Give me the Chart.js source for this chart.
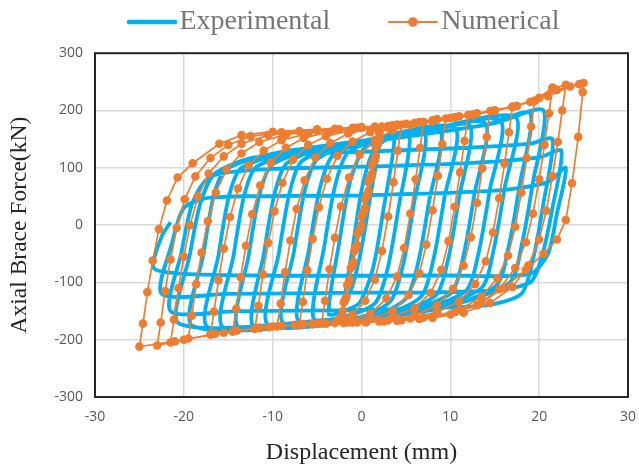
<!DOCTYPE html>
<html>
<head>
<meta charset="utf-8">
<script src="https://cdn.jsdelivr.net/npm/chart.js@4.4.1/dist/chart.umd.min.js"></script>
<style>
  html, body { margin: 0; padding: 0; background: #fff; }
  #chart { display: block; }
</style>
</head>
<body>
<canvas id="chart" width="639" height="468"></canvas>
<script>
// Experimental loops, [displacement mm, force kN]
// each cycle = unloading to the negative peak, then reloading to the next positive peak
const expStart = [[0, 0], [1, 80], [2, 140]];
const expCycle1 = [[1, 50], [0, -40], [-1, -105], [-2, -140], [-1, -40], [0, 60], [1.2, 125], [2.5, 147], [3.7, 152]];
const expCycle2 = [[2.5, 30], [1.3, -75], [-0.2, -135], [-2, -150], [-3.7, -155], [-2.5, -30], [-1.3, 75], [0.2, 132], [2.5, 150], [5.4, 158]];
const expCycle3 = [[4.2, 33], [3, -72], [1.6, -135], [-1.5, -158], [-5.4, -163], [-4.2, -38], [-3, 67], [-1.6, 125], [2, 150], [7.1, 162]];
const expCycle4 = [[5.9, 37], [4.7, -68], [3.3, -132], [0, -160], [-7.1, -167], [-5.9, -42], [-4.7, 63], [-3.3, 120], [1, 148], [8.8, 166]];
const expCycle5 = [[7.6, 41], [6.4, -64], [5, -128], [1, -160], [-8.8, -171], [-7.6, -46], [-6.4, 59], [-5, 115], [0, 146], [10.5, 170]];
const expCycle6 = [[9.3, 45], [8.1, -60], [6.7, -125], [2, -158], [-10.5, -174], [-9.3, -49], [-8.1, 56], [-6.7, 112], [-1, 143], [6, 158], [12.2, 174]];
const expCycle7 = [[11, 49], [9.8, -56], [8.4, -122], [3, -157], [-5, -168], [-12.2, -176], [-11, -51], [-9.8, 54], [-8.4, 108], [-3, 140], [5, 156], [13.9, 178]];
const expCycle8 = [[12.7, 53], [11.5, -52], [10.1, -118], [4, -155], [-5, -168], [-13.9, -178], [-12.7, -53], [-11.5, 52], [-10.1, 105], [-4, 138], [5, 157], [15.6, 183]];
const expCycle9 = [[14.4, 58], [13.2, -47], [11.8, -114], [6, -150], [-4, -167], [-15.6, -178], [-14.4, -53], [-13.2, 52], [-11.8, 102], [-5, 136], [5, 157], [17.3, 189]];
const expCycle10 = [[16.1, 64], [14.9, -41], [13.5, -110], [7, -148], [-3, -166], [-17.3, -178], [-16.1, -53], [-14.9, 52], [-13.5, 100], [-7, 132], [5, 156], [14, 175], [19, 195]];
const expCycle11 = [[17.8, 70], [16.6, -35], [15.2, -105], [9, -145], [-2, -165], [-19, -176], [-17.8, -51], [-16.6, 54], [-15.2, 98], [-9, 128], [3, 150], [15, 178], [20.5, 200]];
const expCycle12 = [[19.3, 75], [18.1, -30], [16.7, -100], [10, -140], [-2, -163], [-20.5, -172], [-19.3, -50], [-18.1, 40], [-16.5, 90], [-12, 118], [0, 128], [12, 135], [19, 142], [21.5, 150]];
const expCycle13 = [[20.5, 40], [19.3, -60], [18, -120], [14, -140], [0, -148], [-14, -150], [-21.5, -150], [-20.3, -50], [-19, 40], [-17, 85], [-10, 98], [0, 102], [12, 108], [20, 118], [22.5, 130]];
const expCycle14 = [[21.5, 30], [20.3, -55], [19, -100], [14, -115], [0, -118], [-15, -120], [-22.5, -120], [-21.3, -30], [-20, 30], [-17, 48], [0, 52], [15, 60], [21, 75], [23, 100]];
const expCycle15 = [[22, 20], [21, -50], [19, -85], [10, -88], [-10, -88], [-20, -85], [-23.4, -75], [-22.5, -20], [-21.5, 5]];

// Numerical loops (orange, with markers)
const numStart = [[0, 0], [0.4, 30], [0.8, 60], [1.2, 90], [1.6, 120], [2, 150], [2.2, 168]];
const numCycle1 = [[1.8, 140], [1.4, 110], [1, 80], [0.6, 50], [0.2, 20], [-0.2, -10], [-0.6, -40], [-1, -70], [-1.4, -100], [-1.8, -130], [-2.2, -158],
  [-1.8, -128], [-1.4, -98], [-1, -68], [-0.6, -38], [-0.2, -8], [0.2, 22], [0.6, 52], [1, 82], [1.4, 112], [1.8, 142], [2.3, 172]];
const numCycle2 = [[1.9, 145], [1.5, 115], [1.1, 85], [0.7, 55], [0.3, 25], [-0.1, -5], [-0.5, -35], [-0.9, -65], [-1.3, -95], [-1.7, -125], [-2.1, -150], [-2.4, -162],
  [-2, -135], [-1.6, -105], [-1.2, -75], [-0.8, -45], [-0.4, -15], [0, 15], [0.4, 45], [0.8, 75], [1.2, 105], [1.6, 135], [2, 160], [3, 170], [4.5, 175]];
const numCycle3 = [[4.1, 130], [3.6, 75], [3, 15], [2.3, -45], [1.5, -95], [0.4, -132], [-1, -156], [-2.8, -167], [-4.5, -172],
  [-4.1, -132], [-3.6, -77], [-3, -22], [-2.3, 33], [-1.4, 83], [-0.2, 123], [1.5, 148], [3.5, 165], [5.5, 175], [7, 180]];
const numCycle4 = [[6.6, 135], [6.1, 80], [5.5, 20], [4.8, -40], [4, -90], [2.8, -128], [1, -155], [-1.5, -167], [-4, -171], [-7, -174],
  [-6.6, -134], [-6.1, -79], [-5.5, -24], [-4.8, 31], [-3.9, 81], [-2.7, 121], [-1, 146], [1, 162], [3.5, 172], [6.5, 180], [9.5, 186]];
const numCycle5 = [[9.1, 141], [8.6, 86], [8, 26], [7.3, -34], [6.5, -84], [5.3, -122], [3.5, -150], [1, -164], [-2, -170], [-5.5, -172], [-9.5, -177],
  [-9.1, -137], [-8.6, -82], [-8, -27], [-7.3, 28], [-6.4, 78], [-5.2, 118], [-3.5, 143], [-1.5, 160], [1.5, 170], [5, 177], [8.5, 185], [12, 192]];
const numCycle6 = [[11.6, 147], [11.1, 92], [10.5, 32], [9.8, -28], [9, -78], [7.8, -118], [6, -145], [3.5, -160], [0.5, -168], [-3, -171], [-7.5, -174], [-12, -181],
  [-11.6, -141], [-11.1, -86], [-10.5, -31], [-9.8, 24], [-8.9, 74], [-7.7, 114], [-6, 140], [-4, 155], [-1, 166], [3, 173], [7, 180], [11, 190], [14.5, 199]];
const numCycle7 = [[14.1, 154], [13.6, 99], [13, 39], [12.3, -21], [11.5, -71], [10.3, -111], [8.5, -140], [6, -157], [3, -166], [-1, -170], [-5, -172], [-10, -177], [-14.5, -186],
  [-14.1, -146], [-13.6, -91], [-13, -36], [-12.3, 19], [-11.4, 69], [-10.2, 109], [-8.5, 135], [-6.5, 152], [-3.5, 163], [0, 170], [4, 175], [8, 183], [12.5, 193], [17, 207]];
const numCycle8 = [[16.6, 162], [16.1, 107], [15.5, 47], [14.8, -13], [14, -63], [12.8, -103], [11, -133], [8.5, -152], [5.5, -163], [2, -168], [-2, -170], [-6.5, -173], [-11.5, -179], [-17, -191],
  [-16.6, -151], [-16.1, -96], [-15.5, -41], [-14.8, 14], [-13.9, 64], [-12.7, 104], [-11, 130], [-9, 148], [-6, 160], [-2.5, 167], [1.5, 171], [6, 178], [10.5, 188], [15, 200], [19.5, 217]];
const numCycle9 = [[19.1, 172], [18.6, 117], [18, 57], [17.3, -3], [16.5, -53], [15.3, -93], [13.5, -125], [11, -148], [8, -160], [4.5, -166], [0.5, -170], [-4, -172], [-9, -176], [-14, -184], [-19.5, -198],
  [-19.1, -158], [-18.6, -103], [-18, -48], [-17.3, 7], [-16.4, 57], [-15.2, 97], [-13.5, 125], [-11.5, 145], [-8.5, 158], [-5, 165], [-1, 170], [3.5, 174], [8, 181], [12.5, 192], [17, 206], [20, 222], [21.5, 240]];
const numCycle10 = [[21.1, 195], [20.6, 140], [20, 80], [19.3, 20], [18.5, -30], [17.3, -75], [15.5, -112], [13, -140], [10, -156], [6.5, -164], [2.5, -168], [-2, -171], [-7, -174], [-12, -181], [-17, -191], [-21.5, -205],
  [-21.1, -165], [-20.6, -110], [-20, -55], [-19.3, 0], [-18.4, 50], [-17.2, 90], [-15.5, 120], [-13.5, 142], [-10.5, 157], [-7, 164], [-3, 168], [1.5, 172], [6, 178], [10.5, 188], [15, 200], [19, 215], [21.5, 238], [23, 245]];
const numCycle11 = [[22.6, 200], [22.1, 145], [21.5, 85], [20.8, 25], [20, -25], [18.8, -70], [17, -108], [14.5, -136], [11.5, -153], [8, -162], [4, -167], [-0.5, -170], [-5.5, -173], [-10.5, -178], [-15.5, -188], [-20, -200], [-23, -210],
  [-22.6, -170], [-22.1, -115], [-21.5, -60], [-20.8, -5], [-19.9, 45], [-18.7, 85], [-17, 117], [-15, 140], [-12.5, 155], [-9, 162], [-5, 166], [-0.5, 170], [4, 175], [8.5, 184], [13, 195], [17.5, 208], [21, 225], [23.5, 242], [25, 248]];
const numCycle12 = [[24.9, 232], [24.4, 154], [23.7, 73], [23, 9], [22, -25], [20.5, -50], [18.5, -78], [16, -110], [13.5, -135], [10.5, -152], [7, -161], [3, -166], [-1.5, -170], [-6.5, -173], [-11.5, -180], [-16.5, -190], [-21, -203], [-25, -212],
  [-24.6, -172], [-24.1, -117], [-23.5, -62], [-22.8, -7], [-21.9, 43], [-20.7, 83], [-19, 108], [-16, 142], [-13.5, 157], [-10, 163], [-5, 167], [0, 171], [5, 176], [10, 187], [15, 200], [19.5, 217], [22, 236], [24.5, 246]];

const xTicks = [-30, -20, -10, 0, 10, 20, 30];
const yTicks = [-300, -200, -100, 0, 100, 200, 300];

const expCycles = [expStart, expCycle1, expCycle2, expCycle3, expCycle4, expCycle5, expCycle6, expCycle7, expCycle8,
  expCycle9, expCycle10, expCycle11, expCycle12, expCycle13, expCycle14, expCycle15];
const numCycles = [numStart, numCycle1, numCycle2, numCycle3, numCycle4, numCycle5, numCycle6, numCycle7, numCycle8, numCycle9, numCycle10, numCycle11, numCycle12];

const toPoints = cycles => cycles.flat().map(p => ({x: p[0], y: p[1]}));

const BLUE = '#00B0F0';
const ORANGE = '#ED7D31';

// legend markers: line (and dot) drawn into a small canvas
function makeMarker(color, width, from, to, dot) {
  const c = document.createElement('canvas');
  c.width = 116;
  c.height = 14;
  const g = c.getContext('2d');
  g.strokeStyle = color;
  g.lineWidth = width;
  g.lineCap = 'round';
  g.beginPath();
  g.moveTo(from, 7);
  g.lineTo(to, 7);
  g.stroke();
  if (dot) {
    g.fillStyle = color;
    g.beginPath();
    g.arc((from + to) / 2, 7, 4.8, 0, Math.PI * 2);
    g.fill();
  }
  return c;
}

const frame = {
  id: 'frame',
  afterDatasetsDraw(chart) {
    const a = chart.chartArea;
    const ctx = chart.ctx;
    ctx.save();
    ctx.strokeStyle = '#262626';
    ctx.lineWidth = 2;
    ctx.strokeRect(a.left, a.top, a.right - a.left, a.bottom - a.top);
    ctx.restore();
  }
};

const markers = [makeMarker(BLUE, 4.5, 68, 114, false), makeMarker(ORANGE, 2, 66, 114, true)];

new Chart(document.getElementById('chart'), {
  type: 'scatter',
  data: {
    datasets: [
      {
        label: 'Experimental',
        data: toPoints(expCycles),
        showLine: true,
        borderColor: BLUE,
        borderWidth: 3.8,
        pointRadius: 0,
        tension: 0.25,
        order: 1
      },
      {
        label: 'Numerical',
        data: toPoints(numCycles),
        showLine: true,
        borderColor: ORANGE,
        borderWidth: 1.7,
        pointRadius: 4.3,
        pointBorderWidth: 0,
        pointBackgroundColor: ORANGE,
        tension: 0,
        order: 0
      }
    ]
  },
  options: {
    responsive: false,
    animation: false,
    devicePixelRatio: 1,
    layout: { padding: { left: 4, right: 11, top: 4, bottom: 0 } },
    plugins: {
      tooltip: { enabled: false },
      // empty title used only as a spacer between legend and plot
      title: { display: true, text: '', weight: 500, font: { size: 1 }, padding: { top: 6, bottom: 0 } },
      legend: {
        position: 'top',
        labels: {
          usePointStyle: true,
          pointStyleWidth: 93,
          padding: 4,
          color: '#767676',
          font: { family: 'Liberation Serif', size: 28 },
          generateLabels: chart => chart.data.datasets.map((ds, i) => ({
            text: ds.label,
            pointStyle: markers[i],
            datasetIndex: i,
            fontColor: '#767676',
            fillStyle: 'rgba(0,0,0,0)',
            strokeStyle: 'rgba(0,0,0,0)',
            lineWidth: 0,
            hidden: false
          }))
        }
      }
    },
    scales: {
      x: {
        type: 'linear',
        min: -30,
        max: 30,
        afterBuildTicks: s => { s.ticks = xTicks.map(v => ({value: v})); },
        afterFit: s => { s.height = 71; s.paddingLeft = 0; s.paddingRight = 0; },
        grid: { color: '#d9d9d9', lineWidth: 1.5, drawTicks: false },
        border: { display: false },
        ticks: { padding: 12, color: '#595959', font: { family: 'Open Sans', size: 14 } },
        title: {
          display: true,
          text: 'Displacement (mm)',
          color: '#262626',
          font: { family: 'Liberation Serif', size: 24 },
          padding: { top: 0, bottom: 1 }
        }
      },
      y: {
        type: 'linear',
        min: -300,
        max: 300,
        afterBuildTicks: s => { s.ticks = yTicks.map(v => ({value: v})); },
        afterFit: s => { s.width = 91; },
        grid: { color: '#d9d9d9', lineWidth: 1.5, drawTicks: false },
        border: { display: false },
        ticks: { padding: 12, color: '#595959', font: { family: 'Open Sans', size: 14 } },
        title: {
          display: true,
          text: 'Axial Brace Force(kN)',
          color: '#262626',
          font: { family: 'Liberation Serif', size: 23.5 },
          padding: { top: 2, bottom: 0 }
        }
      }
    }
  },
  plugins: [frame]
});
</script>
</body>
</html>
